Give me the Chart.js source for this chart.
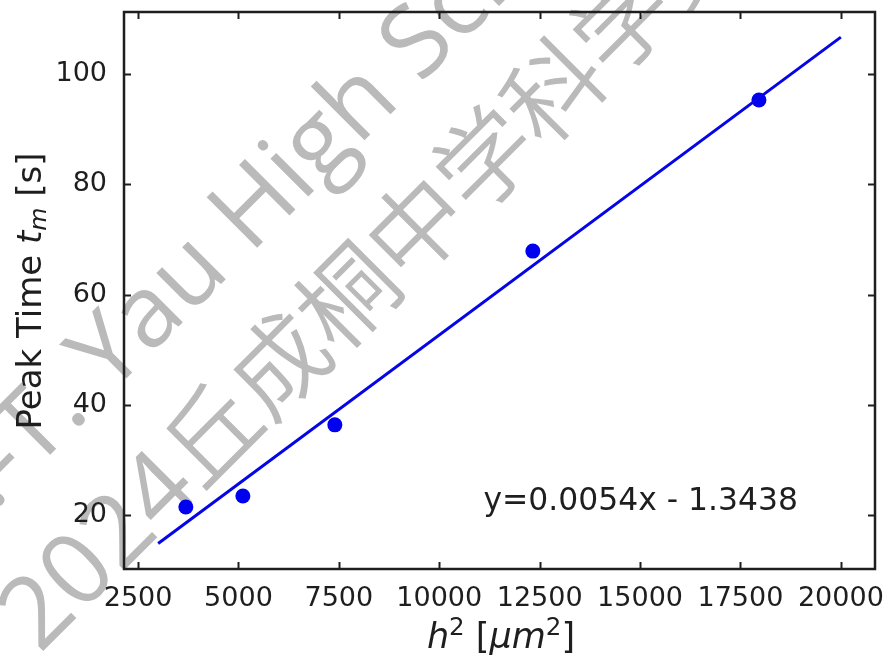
<!DOCTYPE html>
<html>
<head>
<meta charset="utf-8">
<script src="https://cdn.jsdelivr.net/npm/chart.js@4.4.0/dist/chart.umd.min.js"></script>
<style>
	html, body { margin: 0; padding: 0; background: #fff; }
	#wrap { width: 887px; height: 660px; }
</style>
</head>
<body>
<div id="wrap"><canvas id="peakChart" width="887" height="660"></canvas></div>
<script>
// measured points (h^2 in um^2, peak time in s)
const h2Values = [3690, 5110, 7400, 12330, 17960];
const peakTimes = [21.5, 23.5, 36.4, 67.9, 95.3];
// fitted line end points
const fitX = [3000, 20000];
const fitY = [14.9, 106.7];
const xTickValues = [2500, 5000, 7500, 10000, 12500, 15000, 17500, 20000];
const yTickValues = [20, 40, 60, 80, 100];
const fitLabel = "y=0.0054x - 1.3438";
const fitLabelX = 11100;
const fitLabelY = 21;
const watermarkTop = ["S.-T. ", "Yau High School Science Award"];
const watermarkBottom = ["2024", "丘成桐中学科学奖"];

const FONT = '"DejaVu Sans", sans-serif';
const INK = "#1e1e1e";

// draw a row of text pieces (italic / sup / sub) centred on cx
function drawRuns(ctx, runs, size, cx, baseY) {
	const parts = runs.map((r) => {
		const s = r.sup || r.sub ? size * 0.7 : size;
		const font = (r.it ? "italic " : "") + s + "px " + FONT;
		ctx.font = font;
		return {
			t: r.t,
			font: font,
			w: ctx.measureText(r.t).width,
			dy: r.sup ? -size * 0.36 : r.sub ? size * 0.16 : 0,
		};
	});
	const total = parts.reduce((a, p) => a + p.w, 0);
	let x = cx - total / 2;
	parts.forEach((p) => {
		ctx.font = p.font;
		ctx.fillText(p.t, x, baseY + p.dy);
		x += p.w;
	});
}

const watermark = {
	id: "watermark",
	beforeDraw(chart) {
		const ctx = chart.ctx;
		ctx.save();
		ctx.rotate(-Math.PI / 4);
		ctx.fillStyle = "#bababa";
		ctx.textBaseline = "alphabetic";
		// line 1: "Yau" starts at u = -202
		ctx.font = '400 100px "Open Sans", "Noto Sans", sans-serif';
		let w = ctx.measureText(watermarkTop[0]).width;
		ctx.fillText(watermarkTop[0] + watermarkTop[1], -202 - w, 357);
		// line 2: first CJK char starts at u = -206
		ctx.textAlign = "right";
		ctx.fillText(watermarkBottom[0], -206, 491);
		ctx.textAlign = "left";
		ctx.font = '350 97px "Noto Sans CJK SC", sans-serif';
		ctx.fillText(watermarkBottom[1], -206, 491);
		ctx.restore();
	},
};

const frame = {
	id: "frame",
	afterDraw(chart) {
		const {
			ctx,
			chartArea: { left, right, top, bottom },
			scales: { x, y },
		} = chart;
		ctx.save();
		ctx.strokeStyle = INK;
		ctx.lineWidth = 2;
		ctx.beginPath();
		xTickValues.forEach((v) => {
			const px = Math.round(x.getPixelForValue(v)) + 0.5;
			ctx.moveTo(px, bottom);
			ctx.lineTo(px, bottom - 7);
			ctx.moveTo(px, top);
			ctx.lineTo(px, top + 7);
		});
		yTickValues.forEach((v) => {
			const py = Math.round(y.getPixelForValue(v)) + 0.5;
			ctx.moveTo(left, py);
			ctx.lineTo(left + 7, py);
			ctx.moveTo(right, py);
			ctx.lineTo(right - 7, py);
		});
		ctx.stroke();
		ctx.lineWidth = 2.5;
		ctx.strokeRect(left, top, right - left, bottom - top);

		// fit equation
		ctx.fillStyle = INK;
		ctx.font = "31.4px " + FONT;
		ctx.textAlign = "left";
		ctx.textBaseline = "alphabetic";
		ctx.fillText(fitLabel, x.getPixelForValue(fitLabelX), y.getPixelForValue(fitLabelY));

		// axis titles
		drawRuns(
			ctx,
			[{ t: "h", it: true }, { t: "2", sup: true }, { t: " [" }, { t: "μm", it: true }, { t: "2", sup: true }, { t: "]" }],
			35,
			501,
			648
		);
		ctx.translate(41, 291);
		ctx.rotate(-Math.PI / 2);
		drawRuns(
			ctx,
			[{ t: "Peak Time " }, { t: "t", it: true }, { t: "m", it: true, sub: true }, { t: " [s]" }],
			34,
			0,
			0
		);
		ctx.restore();
	},
};

const tickFont = { family: FONT, size: 27 };

new Chart(document.getElementById("peakChart"), {
	type: "scatter",
	data: {
		datasets: [
			{
				type: "line",
				data: fitX.map((v, i) => ({ x: v, y: fitY[i] })),
				borderColor: "#0505e6",
				borderWidth: 3,
				pointRadius: 0,
				fill: false,
			},
			{
				data: h2Values.map((v, i) => ({ x: v, y: peakTimes[i] })),
				backgroundColor: "#0000f0",
				borderWidth: 0,
				pointRadius: 7.5,
			},
		],
	},
	plugins: [watermark, frame],
	options: {
		responsive: false,
		animation: false,
		layout: { padding: { top: 12, right: 12, left: 0, bottom: 0 } },
		plugins: {
			legend: { display: false },
			tooltip: { enabled: false },
		},
		scales: {
			x: {
				type: "linear",
				min: 2150,
				max: 20850,
				afterBuildTicks: (s) => {
					s.ticks = xTickValues.map((v) => ({ value: v }));
				},
				afterFit: (s) => {
					s.height = 91;
					s.paddingLeft = 0;
					s.paddingRight = 0;
				},
				grid: { display: false, drawTicks: false },
				border: { display: false },
				ticks: {
					font: tickFont,
					color: INK,
					padding: 14,
					maxRotation: 0,
					autoSkip: false,
					callback: (v) => String(v),
				},
			},
			y: {
				type: "linear",
				min: 10.27,
				max: 111.25,
				afterBuildTicks: (s) => {
					s.ticks = yTickValues.map((v) => ({ value: v }));
				},
				afterFit: (s) => {
					s.width = 124;
					s.paddingTop = 0;
					s.paddingBottom = 0;
				},
				grid: { display: false, drawTicks: false },
				border: { display: false },
				ticks: {
					font: tickFont,
					color: INK,
					padding: 17,
					autoSkip: false,
					callback: (v) => String(v),
				},
			},
		},
	},
});
</script>
</body>
</html>
